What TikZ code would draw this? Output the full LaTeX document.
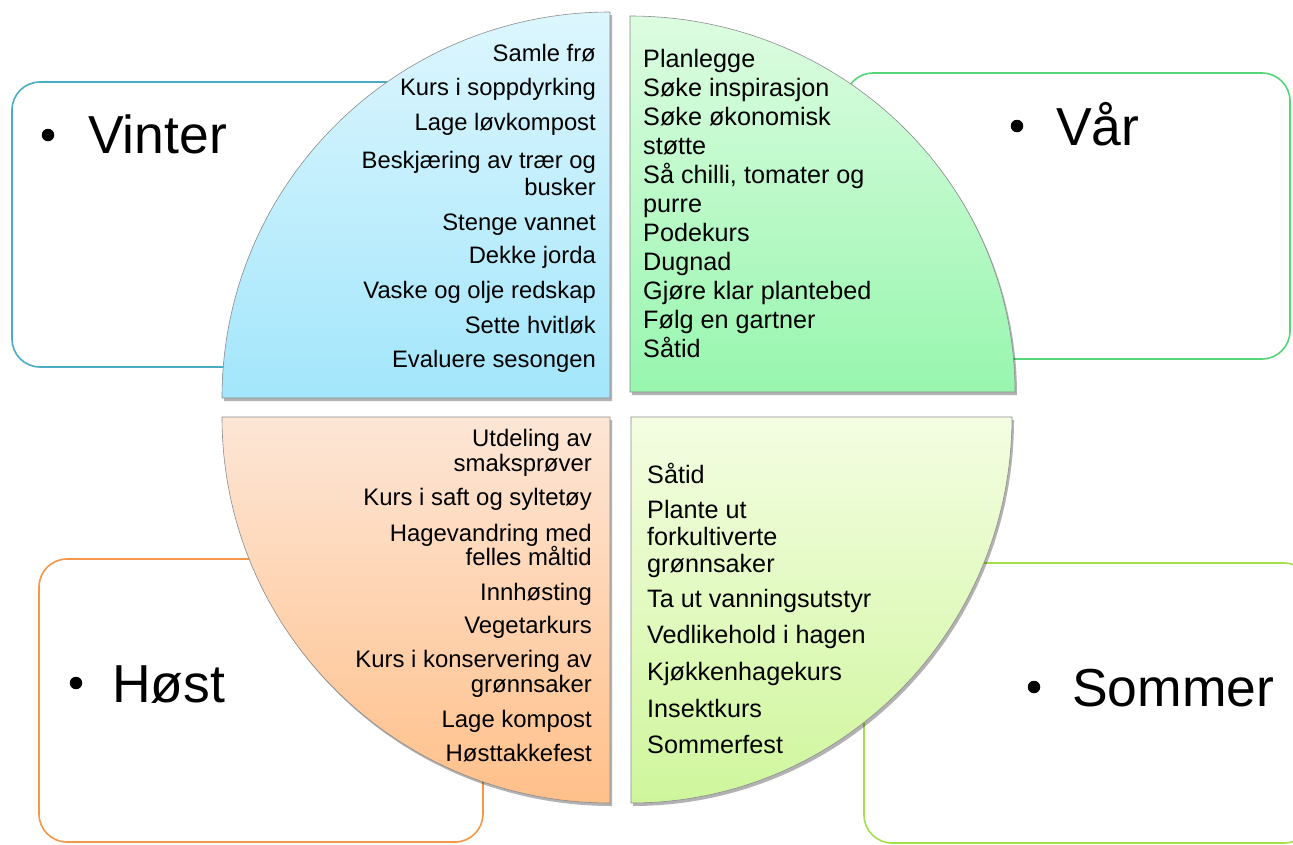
\documentclass[tikz,border=0pt]{standalone}
\usepackage{fontspec}
\setmainfont{Liberation Sans}
\usetikzlibrary{shadows}
\definecolor{winterline}{HTML}{4BACC6}
\definecolor{springline}{HTML}{55D67A}
\definecolor{autumnline}{HTML}{F79646}
\definecolor{summerline}{HTML}{A4E04C}
\definecolor{wintertop}{HTML}{DDF6FE}
\definecolor{winterbot}{HTML}{A3E6FB}
\definecolor{springtop}{HTML}{DDFCE1}
\definecolor{springbot}{HTML}{97F6AE}
\definecolor{autumntop}{HTML}{FDE6D6}
\definecolor{autumnbot}{HTML}{FFC08A}
\definecolor{summertop}{HTML}{F4FDE2}
\definecolor{summerbot}{HTML}{CFF69C}
\begin{document}
\begin{tikzpicture}[x=1pt,y=-1pt,
  seasonbox/.style={line width=1.6pt, fill=white, rounded corners=28pt},
  quad/.style={draw=black!45, line width=0.6pt,
    drop shadow={shadow xshift=2pt, shadow yshift=-3pt, opacity=0.3, fill=black}},
  itemR/.style={anchor=base east, inner sep=0pt, font=\fontsize{23.8}{28}\selectfont},
  itemRb/.style={anchor=base east, inner sep=0pt, font=\fontsize{23.9}{28}\selectfont},
  itemL/.style={anchor=base west, inner sep=0pt, font=\fontsize{25.2}{29}\selectfont},
  biglabel/.style={anchor=base west, inner sep=0pt, font=\fontsize{53.5}{60}\selectfont},
  bulletdot/.style={circle, fill=black, inner sep=0pt, minimum size=12.5pt}]
\useasboundingbox (0,0) rectangle (1293,844);

% season boxes
\draw[seasonbox, draw=winterline] (12,82) rectangle (457,367);
\draw[seasonbox, draw=springline] (845,73) rectangle (1290,359);
\draw[seasonbox, draw=autumnline] (39,559) rectangle (483,842);
\draw[seasonbox, draw=summerline] (864,563) rectangle (1312,843);

% quadrants
\path[quad, top color=wintertop, bottom color=winterbot]
  (610,398) -- (222,398) arc[start angle=180, end angle=270, x radius=388, y radius=386] -- cycle;
\path[quad, top color=springtop, bottom color=springbot]
  (630,392) -- (630,16) arc[start angle=270, end angle=360, x radius=385, y radius=376] -- cycle;
\path[quad, top color=autumntop, bottom color=autumnbot]
  (610,417) -- (222,417) arc[start angle=180, end angle=90, x radius=388, y radius=386] -- cycle;
\path[quad, top color=summertop, bottom color=summerbot]
  (631,417) -- (631,803) arc[start angle=90, end angle=0, x radius=381, y radius=386] -- cycle;

% big labels
\node[bulletdot] (bw) at (48,135) {};
\node[biglabel] (lw) at (88,153) {Vinter};
\node[bulletdot] (bs) at (1017,126) {};
\node[biglabel] (ls) at (1056,145) {Vår};
\node[bulletdot] (ba) at (76,683) {};
\node[biglabel] (la) at (112,702) {Høst};
\node[bulletdot] (bu) at (1034,687) {};
\node[biglabel] (lu) at (1072,706) {Sommer};

% winter items
\node[itemR] (w1) at (596,61) {Samle frø};
\node[itemR] (w2) at (596,95) {Kurs i soppdyrking};
\node[itemR] (w3) at (596,130) {Lage løvkompost};
\node[itemR] (w4) at (596,168) {Beskjæring av trær og};
\node[itemR] (w5) at (596,195) {busker};
\node[itemR] (w6) at (596,230) {Stenge vannet};
\node[itemR] (w7) at (596,263) {Dekke jorda};
\node[itemR] (w8) at (596,298) {Vaske og olje redskap};
\node[itemR] (w9) at (596,333) {Sette hvitløk};
\node[itemR] (w10) at (596,367) {Evaluere sesongen};

% spring items
\node[itemL] (s1) at (643,67) {Planlegge};
\node[itemL] (s2) at (643,96) {Søke inspirasjon};
\node[itemL] (s3) at (643,125) {Søke økonomisk};
\node[itemL] (s4) at (643,154) {støtte};
\node[itemL] (s5) at (643,183) {Så chilli, tomater og};
\node[itemL] (s6) at (643,212) {purre};
\node[itemL] (s7) at (643,241) {Podekurs};
\node[itemL] (s8) at (643,270) {Dugnad};
\node[itemL] (s9) at (643,299) {Gjøre klar plantebed};
\node[itemL] (s10) at (643,328) {Følg en gartner};
\node[itemL] (s11) at (643,357) {Såtid};

% autumn items
\node[itemRb] (a1) at (592,446) {Utdeling av};
\node[itemRb] (a2) at (592,471) {smaksprøver};
\node[itemRb] (a3) at (592,505) {Kurs i saft og syltetøy};
\node[itemRb] (a4) at (592,541) {Hagevandring med};
\node[itemRb] (a5) at (592,565) {felles måltid};
\node[itemRb] (a6) at (592,600) {Innhøsting};
\node[itemRb] (a7) at (592,633) {Vegetarkurs};
\node[itemRb] (a8) at (592,667) {Kurs i konservering av};
\node[itemRb] (a9) at (592,692) {grønnsaker};
\node[itemRb] (a10) at (592,727) {Lage kompost};
\node[itemRb] (a11) at (592,761) {Høsttakkefest};

% summer items
\node[itemL] (u1) at (647,483) {Såtid};
\node[itemL] (u2) at (647,518) {Plante ut};
\node[itemL] (u3) at (647,545) {forkultiverte};
\node[itemL] (u4) at (647,572) {grønnsaker};
\node[itemL] (u5) at (647,607) {Ta ut vanningsutstyr};
\node[itemL] (u6) at (647,643) {Vedlikehold i hagen};
\node[itemL] (u7) at (647,680) {Kjøkkenhagekurs};
\node[itemL] (u8) at (647,717) {Insektkurs};
\node[itemL] (u9) at (647,753) {Sommerfest};
\end{tikzpicture}
\end{document}
